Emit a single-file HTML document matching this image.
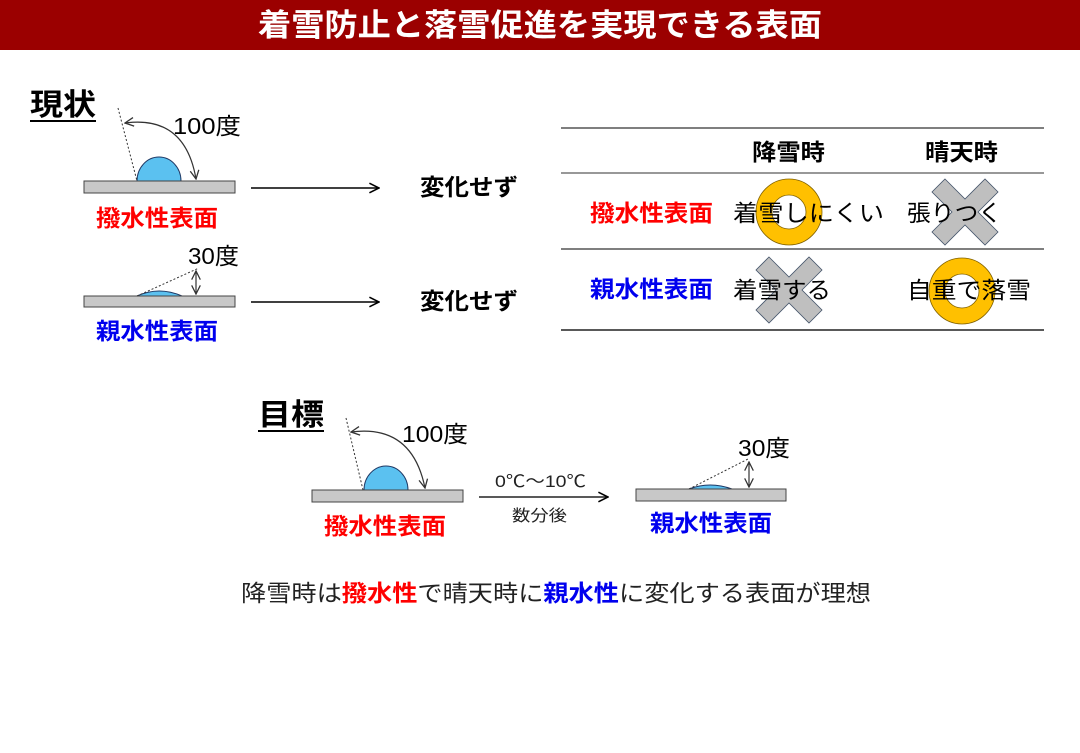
<!DOCTYPE html>
<html><head><meta charset="utf-8"><style>
html,body{margin:0;padding:0;background:#fff;}
svg text{font-family:"Liberation Sans","Noto Sans CJK JP",sans-serif;}
</style></head><body>
<svg width="1080" height="748" viewBox="0 0 1080 748" xmlns="http://www.w3.org/2000/svg">
<defs>
<marker id="a" viewBox="0 0 10 10" refX="9" refY="5" markerWidth="8" markerHeight="8" orient="auto-start-reverse"><path d="M1,1 L9,5 L1,9" fill="none" stroke="#000" stroke-width="1.3"/></marker>
<marker id="b" viewBox="0 0 10 10" refX="9" refY="5" markerWidth="9" markerHeight="9" orient="auto-start-reverse"><path d="M1,1 L9,5 L1,9" fill="none" stroke="#333" stroke-width="1.2"/></marker>
</defs>
<rect x="0" y="0" width="1080" height="50" fill="#9b0000"/>
<text x="258" y="36" fill="#fff" font-size="31" font-weight="bold" textLength="564" lengthAdjust="spacingAndGlyphs">着雪防止と落雪促進を実現できる表面</text>

<text x="30" y="115" font-size="30" font-weight="bold" textLength="66" lengthAdjust="spacingAndGlyphs">現状</text>
<line x1="30" y1="121" x2="96" y2="121" stroke="#000" stroke-width="2"/>

<path d="M137,181 A22,24 0 1 1 181,181 Z" fill="#5bc1f0" stroke="#1f3864" stroke-width="1"/>
<rect x="84" y="181" width="151" height="12" fill="#c8c8c8" stroke="#444" stroke-width="1"/>
<line x1="118" y1="108" x2="137" y2="181" stroke="#333" stroke-dasharray="2,2"/>
<path d="M125,123 Q185,115 196,179" fill="none" stroke="#333" stroke-width="1.2" marker-start="url(#b)" marker-end="url(#b)"/>
<text x="173" y="134" font-size="23" textLength="68" lengthAdjust="spacingAndGlyphs">100度</text>
<text x="96" y="226" font-size="23" font-weight="bold" fill="#f00" textLength="122" lengthAdjust="spacingAndGlyphs">撥水性表面</text>
<line x1="251" y1="188" x2="379" y2="188" stroke="#000" stroke-width="1.5" marker-end="url(#a)"/>
<text x="420" y="195" font-size="23" font-weight="bold" textLength="98" lengthAdjust="spacingAndGlyphs">変化せず</text>

<path d="M137,296 Q159,286 182,296 Z" fill="#5bc1f0" stroke="#1f3864" stroke-width="1"/>
<rect x="84" y="296" width="151" height="11" fill="#c8c8c8" stroke="#444" stroke-width="1"/>
<line x1="137" y1="296" x2="199" y2="268" stroke="#333" stroke-dasharray="2,2"/>
<line x1="196" y1="271" x2="196" y2="294" stroke="#333" stroke-width="1.2" marker-start="url(#b)" marker-end="url(#b)"/>
<text x="188" y="264" font-size="23" textLength="51" lengthAdjust="spacingAndGlyphs">30度</text>
<text x="96" y="339" font-size="23" font-weight="bold" fill="#0000ee" textLength="122" lengthAdjust="spacingAndGlyphs">親水性表面</text>
<line x1="251" y1="302" x2="379" y2="302" stroke="#000" stroke-width="1.5" marker-end="url(#a)"/>
<text x="420" y="309" font-size="23" font-weight="bold" textLength="98" lengthAdjust="spacingAndGlyphs">変化せず</text>

<line x1="561" y1="128" x2="1044" y2="128" stroke="#555" stroke-width="1.5"/>
<line x1="561" y1="173" x2="1044" y2="173" stroke="#777" stroke-width="1.5"/>
<line x1="561" y1="249" x2="1044" y2="249" stroke="#555" stroke-width="1.5"/>
<line x1="561" y1="330" x2="1044" y2="330" stroke="#222" stroke-width="1.5"/>
<text x="752" y="160" font-size="23" font-weight="bold" textLength="73" lengthAdjust="spacingAndGlyphs">降雪時</text>
<text x="925" y="160" font-size="23" font-weight="bold" textLength="73" lengthAdjust="spacingAndGlyphs">晴天時</text>
<text x="590" y="221" font-size="23" font-weight="bold" fill="#f00" textLength="123" lengthAdjust="spacingAndGlyphs">撥水性表面</text>
<text x="590" y="297" font-size="23" font-weight="bold" fill="#0000ee" textLength="123" lengthAdjust="spacingAndGlyphs">親水性表面</text>
<g fill="#ffc000" stroke="#7f6000" stroke-width="0.8" fill-rule="evenodd">
<path d="M822,212 A33,33 0 1 0 756,212 A33,33 0 1 0 822,212 Z M806,212 A17,17 0 1 1 772,212 A17,17 0 1 1 806,212 Z"/>
<path d="M995,291 A33,33 0 1 0 929,291 A33,33 0 1 0 995,291 Z M979,291 A17,17 0 1 1 945,291 A17,17 0 1 1 979,291 Z"/>
</g>
<g fill="#bfbfbf" stroke="#44546a" stroke-width="0.8">
<path transform="translate(965,212)" d="M-20,-33 L0,-13 L20,-33 L33,-20 L13,0 L33,20 L20,33 L0,13 L-20,33 L-33,20 L-13,0 L-33,-20 Z"/>
<path transform="translate(789,290)" d="M-20,-33 L0,-13 L20,-33 L33,-20 L13,0 L33,20 L20,33 L0,13 L-20,33 L-33,20 L-13,0 L-33,-20 Z"/>
</g>
<text x="733" y="221" font-size="23" textLength="151" lengthAdjust="spacingAndGlyphs">着雪しにくい</text>
<text x="907" y="221" font-size="23" textLength="95" lengthAdjust="spacingAndGlyphs">張りつく</text>
<text x="733" y="298" font-size="23" textLength="98" lengthAdjust="spacingAndGlyphs">着雪する</text>
<text x="907" y="298" font-size="23" textLength="124" lengthAdjust="spacingAndGlyphs">自重で落雪</text>

<text x="258" y="425" font-size="30" font-weight="bold" textLength="66" lengthAdjust="spacingAndGlyphs">目標</text>
<line x1="258" y1="431" x2="324" y2="431" stroke="#000" stroke-width="2"/>
<path d="M364,490 A22,24 0 1 1 408,490 Z" fill="#5bc1f0" stroke="#1f3864" stroke-width="1"/>
<rect x="312" y="490" width="151" height="12" fill="#c8c8c8" stroke="#444" stroke-width="1"/>
<line x1="346" y1="418" x2="363" y2="490" stroke="#333" stroke-dasharray="2,2"/>
<path d="M351,432 Q412,424 425,488" fill="none" stroke="#333" stroke-width="1.2" marker-start="url(#b)" marker-end="url(#b)"/>
<text x="402" y="442" font-size="23" textLength="66" lengthAdjust="spacingAndGlyphs">100度</text>
<text x="324" y="534" font-size="23" font-weight="bold" fill="#f00" textLength="122" lengthAdjust="spacingAndGlyphs">撥水性表面</text>

<line x1="479" y1="497" x2="608" y2="497" stroke="#222" stroke-width="1.5" marker-end="url(#a)"/>
<text x="495" y="487" font-size="17" fill="#222" textLength="91" lengthAdjust="spacingAndGlyphs">0℃〜10℃</text>
<text x="512" y="521" font-size="16" fill="#222" textLength="55" lengthAdjust="spacingAndGlyphs">数分後</text>

<path d="M689,489 Q710,481 732,489 Z" fill="#5bc1f0" stroke="#1f3864" stroke-width="1"/>
<rect x="636" y="489" width="150" height="12" fill="#c8c8c8" stroke="#444" stroke-width="1"/>
<line x1="689" y1="489" x2="748" y2="459" stroke="#333" stroke-dasharray="2,2"/>
<line x1="749" y1="462" x2="749" y2="487" stroke="#333" stroke-width="1.2" marker-start="url(#b)" marker-end="url(#b)"/>
<text x="738" y="456" font-size="23" textLength="52" lengthAdjust="spacingAndGlyphs">30度</text>
<text x="650" y="531" font-size="23" font-weight="bold" fill="#0000ee" textLength="122" lengthAdjust="spacingAndGlyphs">親水性表面</text>

<text x="241" y="601" font-size="23" fill="#222" textLength="630" lengthAdjust="spacingAndGlyphs">降雪時は<tspan fill="#f00" font-weight="bold">撥水性</tspan>で晴天時に<tspan fill="#0000ee" font-weight="bold">親水性</tspan>に変化する表面が理想</text>
</svg>
</body></html>
